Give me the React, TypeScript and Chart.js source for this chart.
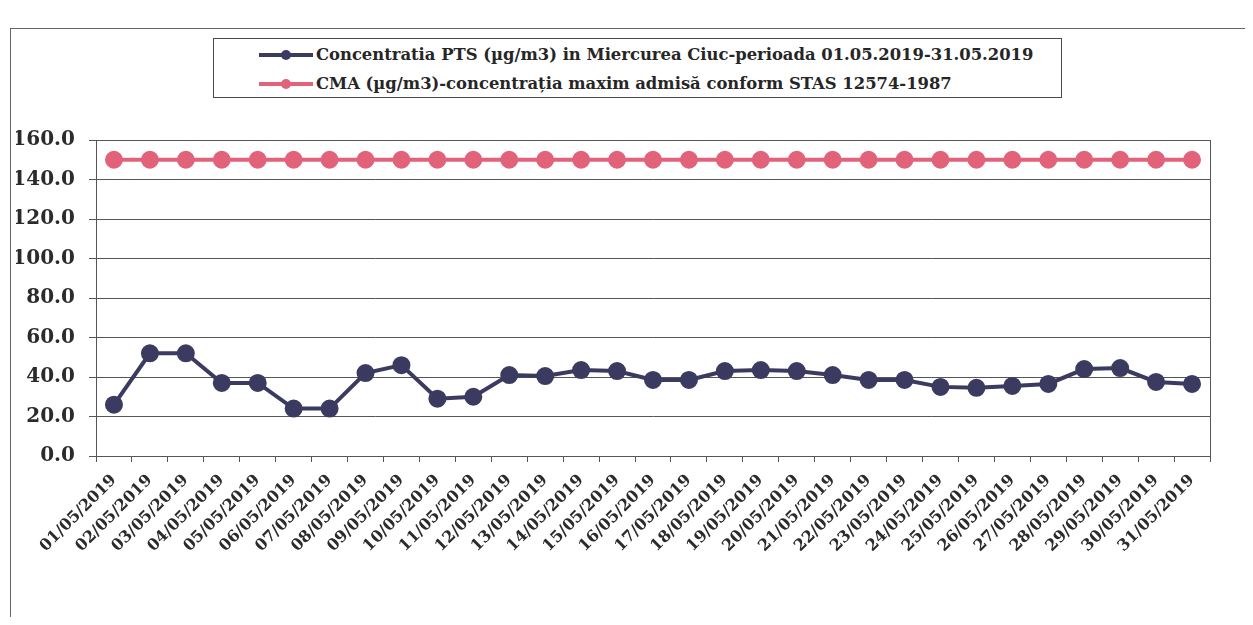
import React, { useEffect, useRef } from "react";
import { Chart, registerables } from "chart.js";

Chart.register(...registerables);

const categories = [
  "01/05/2019", "02/05/2019", "03/05/2019", "04/05/2019", "05/05/2019",
  "06/05/2019", "07/05/2019", "08/05/2019", "09/05/2019", "10/05/2019",
  "11/05/2019", "12/05/2019", "13/05/2019", "14/05/2019", "15/05/2019",
  "16/05/2019", "17/05/2019", "18/05/2019", "19/05/2019", "20/05/2019",
  "21/05/2019", "22/05/2019", "23/05/2019", "24/05/2019", "25/05/2019",
  "26/05/2019", "27/05/2019", "28/05/2019", "29/05/2019", "30/05/2019",
  "31/05/2019",
];

const ptsValues = [
  26, 52, 52, 37, 37, 24, 24, 42, 46, 29,
  30, 41, 40.5, 43.5, 43, 38.5, 38.5, 43, 43.5, 43,
  41, 38.5, 38.5, 35, 34.5, 35.5, 36.5, 44, 44.5, 37.5,
  36.5,
];

const cmaValues = [
  150, 150, 150, 150, 150, 150, 150, 150, 150, 150,
  150, 150, 150, 150, 150, 150, 150, 150, 150, 150,
  150, 150, 150, 150, 150, 150, 150, 150, 150, 150,
  150,
];

const yMin = 0;
const yMax = 160;
const yStep = 20;

const PTS_LABEL =
  "Concentratia PTS (µg/m3) in Miercurea Ciuc-perioada 01.05.2019-31.05.2019";
const CMA_LABEL =
  "CMA (µg/m3)-concentrația maxim admisă conform STAS 12574-1987";

const PTS_COLOR = "#3b3a60";
const CMA_COLOR = "#e2627a";
const FONT = '"DejaVu Serif", "Liberation Serif", serif';

const plotFrame = {
  id: "plotFrame",
  beforeDatasetsDraw(chart: any) {
    const { ctx, chartArea } = chart;
    const { left, top, right, bottom } = chartArea;
    ctx.save();
    ctx.strokeStyle = "#555";
    ctx.lineWidth = 1;
    ctx.strokeRect(left + 0.5, top + 0.5, right - left, bottom - top);
    ctx.restore();
  },
};

function LegendRow({ color, label }: { color: string; label: string }) {
  return (
    <div
      style={{
        display: "flex",
        alignItems: "center",
        height: 29,
        paddingLeft: 45,
        whiteSpace: "nowrap",
      }}
    >
      <svg width={54} height={14} style={{ flex: "0 0 auto" }}>
        <line x1={0} y1={7} x2={54} y2={7} stroke={color} strokeWidth={4} />
        <circle cx={27} cy={7} r={5} fill={color} />
      </svg>
      <span style={{ marginLeft: 3 }}>{label}</span>
    </div>
  );
}

export default function App() {
  const canvasRef = useRef<HTMLCanvasElement | null>(null);

  useEffect(() => {
    if (!canvasRef.current) return;
    const chart = new Chart(canvasRef.current, {
      type: "line",
      data: {
        labels: categories,
        datasets: [
          {
            label: PTS_LABEL,
            data: ptsValues,
            borderColor: PTS_COLOR,
            backgroundColor: PTS_COLOR,
            borderWidth: 4,
            pointRadius: 7,
            pointHoverRadius: 7,
            pointBackgroundColor: PTS_COLOR,
            pointBorderColor: PTS_COLOR,
            tension: 0,
          },
          {
            label: CMA_LABEL,
            data: cmaValues,
            borderColor: CMA_COLOR,
            backgroundColor: CMA_COLOR,
            borderWidth: 4,
            pointRadius: 7,
            pointHoverRadius: 7,
            pointBackgroundColor: CMA_COLOR,
            pointBorderColor: CMA_COLOR,
            tension: 0,
          },
        ],
      },
      options: {
        animation: false,
        responsive: true,
        maintainAspectRatio: false,
        layout: { padding: { top: 132, left: 8, right: 35, bottom: 41 } },
        plugins: {
          legend: { display: false },
          tooltip: { enabled: false },
          title: { display: false },
        },
        scales: {
          x: {
            type: "category",
            offset: true,
            grid: {
              offset: true,
              drawOnChartArea: false,
              drawTicks: true,
              tickLength: 6,
              color: "#555",
            },
            border: { display: true, color: "#555", width: 1 },
            ticks: {
              autoSkip: false,
              minRotation: 45,
              maxRotation: 45,
              padding: 9,
              color: "#2b2b2b",
              font: { family: FONT, weight: "bold", size: 16 },
            },
            afterFit(scale: any) {
              scale.height = 120;
            },
          },
          y: {
            min: yMin,
            max: yMax,
            ticks: {
              stepSize: yStep,
              padding: 14,
              color: "#2b2b2b",
              font: { family: FONT, weight: "bold", size: 20 },
              callback: (v: any) => Number(v).toFixed(1),
            },
            grid: { color: "#555", tickLength: 7, drawTicks: true },
            border: { display: true, color: "#555", width: 1 },
            afterFit(scale: any) {
              scale.width = 80;
            },
          },
        },
      },
      plugins: [plotFrame],
    });
    return () => chart.destroy();
  }, []);

  return (
    <div
      style={{
        position: "relative",
        width: "100%",
        height: 609,
        overflow: "hidden",
        background: "#fff",
      }}
    >
      <div
        style={{
          position: "absolute",
          left: 2,
          top: 20,
          width: 1400,
          height: 800,
          border: "1px solid #666",
          boxSizing: "border-box",
        }}
      />
      <div style={{ position: "absolute", inset: 0 }}>
        <canvas ref={canvasRef} />
      </div>
      <div
        style={{
          position: "absolute",
          left: 205,
          top: 30,
          width: 849,
          height: 60,
          border: "1px solid #4a4a4a",
          boxSizing: "border-box",
          background: "#fff",
          paddingTop: 1,
          fontFamily: FONT,
          fontWeight: "bold",
          fontSize: 16.4,
          color: "#262626",
        }}
      >
        <LegendRow color={PTS_COLOR} label={PTS_LABEL} />
        <LegendRow color={CMA_COLOR} label={CMA_LABEL} />
      </div>
    </div>
  );
}
